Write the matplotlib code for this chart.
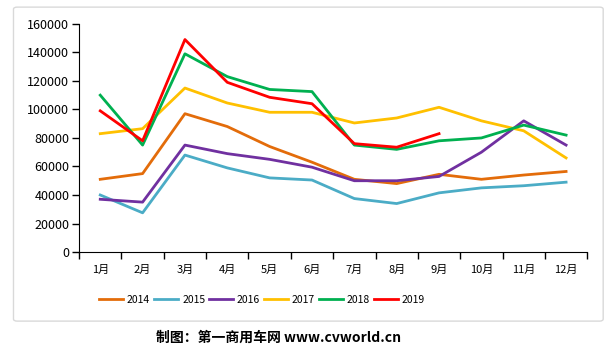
import matplotlib
matplotlib.use("Agg")
import matplotlib.pyplot as plt
from matplotlib.patches import FancyBboxPatch

plt.rcParams["font.family"] = ["Noto Sans CJK SC", "DejaVu Sans"]

months = ["1月", "2月", "3月", "4月", "5月", "6月", "7月", "8月", "9月", "10月", "11月", "12月"]
years = ["2014", "2015", "2016", "2017", "2018", "2019"]
colors = ["#E36C0A", "#4BACC6", "#7030A0", "#FFC000", "#00B050", "#FF0000"]

sales_2014 = [51000, 55000, 97000, 88000, 74000, 63000, 51000, 48000, 54500, 51000, 54000, 56500]
sales_2015 = [40000, 27500, 68000, 59000, 52000, 50500, 37500, 34000, 41500, 45000, 46500, 49000]
sales_2016 = [37000, 35000, 75000, 69000, 65000, 59500, 50000, 50000, 53000, 70000, 92000, 75000]
sales_2017 = [83000, 86500, 115000, 104500, 98000, 98000, 90500, 94000, 101500, 92000, 85000, 66000]
sales_2018 = [110000, 75000, 139000, 123000, 114000, 112500, 75000, 72000, 78000, 80000, 89000, 82000]
sales_2019 = [99000, 78000, 149000, 119000, 108500, 104000, 76000, 73500, 83000]

series = [sales_2014, sales_2015, sales_2016, sales_2017, sales_2018, sales_2019]

fig = plt.figure(figsize=(6.13, 3.56), dpi=100)

# light rounded frame around the chart area
frame = FancyBboxPatch((0.022, 0.098), 0.962, 0.882, boxstyle="round,pad=0,rounding_size=0.006",
                       transform=fig.transFigure, facecolor="white", edgecolor="#d9d9d9", lw=1,
                       zorder=-1)
fig.patches.append(frame)

ax = fig.add_axes([0.129, 0.292, 0.829, 0.641])
ax.patch.set_alpha(0)

for name, vals, c in zip(years, series, colors):
    ax.plot(range(len(vals)), vals, color=c, lw=2, label=name)

ax.set_xlim(-0.5, 11.5)
ax.set_ylim(0, 160000)
ax.set_yticks(range(0, 160001, 20000))
ax.set_xticks(range(12))
ax.set_xticklabels(months, fontsize=8)
ax.tick_params(axis="x", length=0, pad=9)
ax.set_xticks([i - 0.5 for i in range(13)], minor=True)
ax.tick_params(axis="x", which="minor", length=5, direction="out", width=1)
ax.tick_params(axis="y", labelsize=9, length=5, width=1, pad=2)
for s in ["top", "right"]:
    ax.spines[s].set_visible(False)

leg = ax.legend(loc="upper center", bbox_to_anchor=(0.36, -0.145), ncol=6, frameon=False,
                fontsize=7.5, handlelength=2.3, handletextpad=0.4, columnspacing=0.35)

fig.text(0.455, 0.05, "制图：第一商用车网 www.cvworld.cn", ha="center", va="center",
         fontsize=10, fontweight="bold")

fig.savefig("out.png", dpi=100)
